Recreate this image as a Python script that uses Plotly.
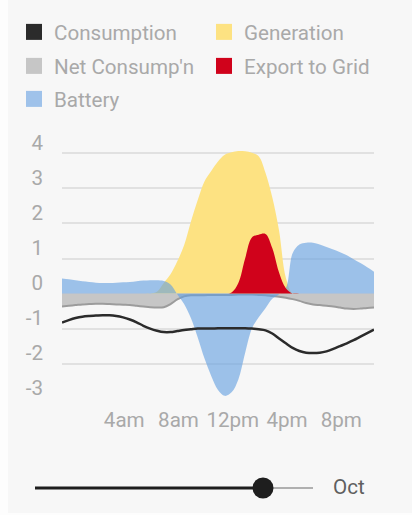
import plotly.graph_objects as go

hours = [0, 0.5, 1, 1.5, 2, 2.5, 3, 3.5, 4, 4.5, 5, 5.5, 6, 6.5, 7, 7.5,
         8, 8.5, 9, 9.5, 10, 10.5, 11, 11.5, 12, 12.5, 13, 13.5, 14, 14.5,
         15, 15.5, 16, 16.5, 17, 17.5, 18, 18.5, 19, 19.5, 20, 20.5, 21,
         21.5, 22, 22.5, 23]

consumption = [-0.83, -0.76, -0.70, -0.66, -0.64, -0.63, -0.62, -0.62, -0.64, -0.68,
               -0.74, -0.82, -0.92, -1.00, -1.06, -1.10, -1.10, -1.07, -1.04, -1.02,
               -1.00, -1.00, -1.00, -0.99, -0.99, -0.99, -0.99, -0.99, -1.00, -1.02,
               -1.05, -1.14, -1.28, -1.42, -1.55, -1.64, -1.69, -1.70, -1.69, -1.65,
               -1.58, -1.50, -1.42, -1.33, -1.23, -1.13, -1.03]

generation = [0, 0, 0, 0, 0, 0, 0, 0, 0, 0, 0, 0, 0, 0, 0.05, 0.3,
              0.55, 0.92, 1.38, 2.05, 2.66, 3.2, 3.5, 3.77, 3.96, 4.03, 4.07, 4.06,
              4.02, 3.92, 3.45, 2.75, 1.8, 0.45, 0, 0, 0, 0, 0, 0, 0, 0, 0, 0,
              0, 0, 0]

net_consumption = [-0.37, -0.35, -0.33, -0.31, -0.30, -0.29, -0.29, -0.30, -0.31, -0.32,
                   -0.33, -0.35, -0.37, -0.39, -0.40, -0.39, -0.30, -0.17, -0.08, -0.05,
                   -0.05, -0.05, -0.04, -0.04, -0.04, -0.04, -0.03, -0.03, -0.03, -0.04,
                   -0.05, -0.07, -0.09, -0.12, -0.16, -0.21, -0.27, -0.31, -0.33, -0.35,
                   -0.37, -0.40, -0.43, -0.44, -0.43, -0.41, -0.40]

export_to_grid = [0, 0, 0, 0, 0, 0, 0, 0, 0, 0, 0, 0, 0, 0, 0, 0,
                  0, 0, 0, 0, 0, 0, 0, 0, 0, 0.03, 0.3, 1.0, 1.6, 1.68, 1.7, 1.3,
                  0.6, 0.15, 0, 0, 0, 0, 0, 0, 0, 0, 0, 0, 0, 0, 0]

battery = [0.43, 0.41, 0.38, 0.35, 0.33, 0.31, 0.30, 0.30, 0.31, 0.32,
           0.33, 0.35, 0.37, 0.38, 0.38, 0.36, 0.26, -0.02, -0.30, -0.70,
           -1.25, -1.85, -2.35, -2.75, -2.92, -2.82, -2.45, -1.70, -1.00, -0.68,
           -0.42, -0.15, -0.02, 0.15, 1.15, 1.40, 1.45, 1.45, 1.40, 1.33,
           1.26, 1.18, 1.09, 0.98, 0.87, 0.75, 0.62]

x_tick_vals = [4, 8, 12, 16, 20]
x_tick_text = ["4am", "8am", "12pm", "4pm", "8pm"]
y_tick_vals = [-3, -2, -1, 0, 1, 2, 3, 4, 5]
y_tick_text = ["-3", "-2", "-1", "0", "1", "2", "3", "4", ""]
month_label = "Oct"

FONT = "Roboto, Arial, sans-serif"
FS = 20.6
TXT = "#a9a9a9"
C_CONS = "#2b2b2b"
C_GEN = "#fde282"
C_NET = "#c6c6c6"
C_EXP = "#d0021b"
C_BAT = "#9fc2ea"

fig = go.Figure()

# areas
fig.add_trace(go.Scatter(x=hours, y=net_consumption, mode="lines", fill="tozeroy",
                         fillcolor=C_NET, line=dict(color="#9c9c9c", width=2, shape="spline"),
                         showlegend=False, hoverinfo="skip"))
fig.add_trace(go.Scatter(x=hours, y=generation, mode="lines", fill="tozeroy",
                         fillcolor=C_GEN, line=dict(width=0, shape="spline"),
                         showlegend=False, hoverinfo="skip"))
fig.add_trace(go.Scatter(x=hours, y=battery, mode="lines", fill="tozeroy",
                         fillcolor="rgba(100,159,225,0.62)", line=dict(width=0, shape="spline"),
                         showlegend=False, hoverinfo="skip"))
fig.add_trace(go.Scatter(x=hours, y=export_to_grid, mode="lines", fill="tozeroy",
                         fillcolor=C_EXP, line=dict(width=0, shape="spline"),
                         showlegend=False, hoverinfo="skip"))
fig.add_trace(go.Scatter(x=hours, y=consumption, mode="lines",
                         line=dict(color=C_CONS, width=2.5, shape="spline"),
                         showlegend=False, hoverinfo="skip"))

# legend entries (squares), one legend per entry for exact placement
legend_items = [
    ("Consumption", C_CONS, "legend", 14, 32),
    ("Generation", C_GEN, "legend2", 204, 32),
    ("Net Consump'n", C_NET, "legend3", 14, 66),
    ("Export to Grid", C_EXP, "legend4", 204, 66),
    ("Battery", C_BAT, "legend5", 14, 99),
]
W, H = 412, 515
legend_layouts = {}
for name, col, lg, lx, ly in legend_items:
    fig.add_trace(go.Scatter(x=[None], y=[None], mode="markers", name=name,
                             marker=dict(symbol="square", size=16, color=col),
                             legend=lg, showlegend=True))
    legend_layouts[lg] = dict(
        x=lx / W, y=1 - ly / H, xref="container", yref="container",
        xanchor="left", yanchor="middle", orientation="h",
        bgcolor="rgba(0,0,0,0)", borderwidth=0,
        font=dict(family=FONT, size=FS, color=TXT),
    )

L, R, T, B = 62, 38, 118, 116
pw = W - L - R
ph = H - T - B

def px2paper_x(px):
    return (px - L) / pw

def py2paper_y(py):
    return (H - B - py) / ph

slider_y = py2paper_y(488)
knob_x = px2paper_x(263)
shapes = [
    dict(type="rect", xref="paper", yref="paper", x0=px2paper_x(0), x1=px2paper_x(8),
         y0=py2paper_y(H), y1=py2paper_y(0), fillcolor="#fdfdfd", line=dict(width=0), layer="below"),
    dict(type="rect", xref="paper", yref="paper", x0=px2paper_x(0), x1=px2paper_x(W),
         y0=py2paper_y(H), y1=py2paper_y(513), fillcolor="#fdfdfd", line=dict(width=0), layer="below"),
    dict(type="line", xref="paper", yref="paper", x0=knob_x, x1=px2paper_x(313),
         y0=slider_y, y1=slider_y, line=dict(color="#b0b0b0", width=2)),
    dict(type="line", xref="paper", yref="paper", x0=px2paper_x(35), x1=knob_x,
         y0=slider_y, y1=slider_y, line=dict(color="#1e1e1e", width=3)),
    dict(type="circle", xref="paper", yref="paper", xsizemode="pixel", ysizemode="pixel",
         xanchor=knob_x, yanchor=slider_y, x0=-10.5, x1=10.5, y0=-10.5, y1=10.5,
         fillcolor="#1e1e1e", line=dict(width=0)),
]

fig.update_layout(
    width=W, height=H,
    margin=dict(l=L, r=R, t=T, b=B, autoexpand=False),
    paper_bgcolor="#f7f7f7", plot_bgcolor="#f7f7f7",
    font=dict(family=FONT, size=FS, color=TXT),
    shapes=shapes,
    annotations=[dict(text=month_label, xref="paper", yref="paper", x=px2paper_x(331),
                      y=py2paper_y(487), xanchor="left", yanchor="middle", showarrow=False,
                      font=dict(family=FONT, size=FS, color="#5f5f5f"))],
    xaxis=dict(range=[0, 23], tickvals=x_tick_vals, ticktext=x_tick_text, tickangle=0,
               showgrid=False, zeroline=False, showline=False, ticks="",
               ticklabelshift=8, ticklabelstandoff=6,
               tickfont=dict(family=FONT, size=FS, color=TXT), fixedrange=True),
    yaxis=dict(range=[-3.01, 5.01], tickvals=y_tick_vals, ticktext=y_tick_text,
               showgrid=True, gridcolor="#e1e1e1", gridwidth=1.5, zeroline=False,
               showline=False, ticks="", ticklabelshift=-11, ticklabelstandoff=18,
               tickfont=dict(family=FONT, size=FS, color=TXT), fixedrange=True),
    **legend_layouts,
)

fig.write_html("out.html", config={"displayModeBar": False},
               post_script="document.body.style.margin='0';document.body.style.overflow='hidden';")
